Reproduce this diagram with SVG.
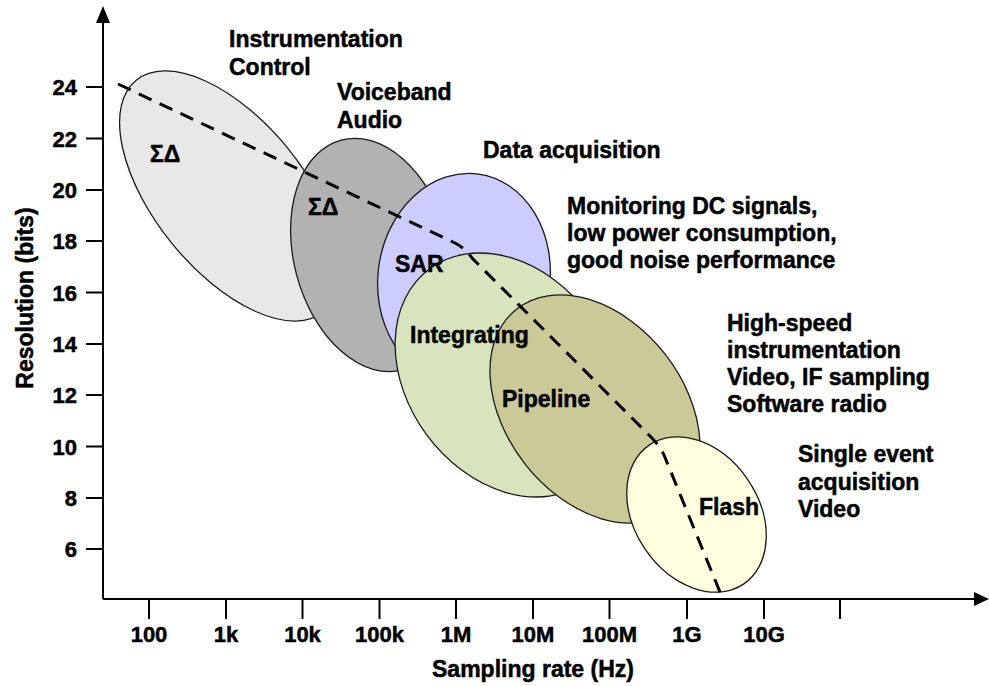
<svg xmlns="http://www.w3.org/2000/svg" width="989" height="686" viewBox="0 0 989 686">
<style>
text{font-family:"Liberation Sans",Arial,sans-serif;font-weight:bold;fill:#000;stroke:#000;stroke-width:0.5;font-size:23px}
.ax{stroke:#000;stroke-width:2;fill:none}
.el{stroke:#1a1a1a;stroke-width:1.3}
.yt{text-anchor:end;font-size:22px}
.xt{text-anchor:middle;font-size:22px}
.dash{fill:none;stroke:#000;stroke-width:3;stroke-dasharray:14 9}
</style>
<rect width="989" height="686" fill="#fff"/>
<g id="axes">
<path class="ax" d="M103,599 V20 M103,599 H976"/>
<polygon points="103,6 96,23 110,23" fill="#000"/>
<polygon points="989,599 974,592 974,606" fill="#000"/>
<path class="ax" d="M86,87H103 M86,138.5H103 M86,190H103 M86,241H103 M86,292.5H103 M86,344H103 M86,395H103 M86,446.5H103 M86,498H103 M86,549H103"/>
<path class="ax" d="M149,599V619 M226,599V619 M302.5,599V619 M379.5,599V619 M456,599V619 M533,599V619 M609.5,599V619 M687,599V619 M764,599V619 M840,599V619"/>
<text class="yt" x="77" y="95">24</text>
<text class="yt" x="77" y="146.5">22</text>
<text class="yt" x="77" y="198">20</text>
<text class="yt" x="77" y="249">18</text>
<text class="yt" x="77" y="300.5">16</text>
<text class="yt" x="77" y="352">14</text>
<text class="yt" x="77" y="403">12</text>
<text class="yt" x="77" y="454.5">10</text>
<text class="yt" x="77" y="506">8</text>
<text class="yt" x="77" y="557">6</text>
<text class="xt" x="149" y="642">100</text>
<text class="xt" x="226" y="642">1k</text>
<text class="xt" x="302.5" y="642">10k</text>
<text class="xt" x="379.5" y="642">100k</text>
<text class="xt" x="456" y="642">1M</text>
<text class="xt" x="533" y="642">10M</text>
<text class="xt" x="609.5" y="642">100M</text>
<text class="xt" x="687" y="642">1G</text>
<text class="xt" x="764" y="642">10G</text>
<text x="533" y="677" text-anchor="middle" font-size="24">Sampling rate (Hz)</text>
<text transform="translate(33,298) rotate(-90)" text-anchor="middle" font-size="24">Resolution (bits)</text>
</g>
<g id="sigma-delta-1">
<ellipse class="el" cx="230" cy="196" rx="149" ry="75" transform="rotate(51 230 196)" fill="#e8e8e8"/>
</g>
<g id="sigma-delta-2">
<ellipse class="el" cx="372" cy="255" rx="119" ry="78" transform="rotate(75 372 255)" fill="#b2b2b2"/>
</g>
<g id="sar">
<ellipse class="el" cx="464" cy="278" rx="86" ry="105" transform="rotate(8 464 278)" fill="#ccccff"/>
</g>
<g id="integrating">
<ellipse class="el" cx="508" cy="375" rx="132" ry="101" transform="rotate(53.6 508 375)" fill="#d7e4bd"/>
</g>
<g id="pipeline">
<ellipse class="el" cx="595" cy="409" rx="127" ry="89" transform="rotate(52 595 409)" fill="#ccc999"/>
</g>
<g id="flash">
<ellipse class="el" cx="696.5" cy="514.5" rx="84" ry="62" transform="rotate(55.7 696.5 514.5)" fill="#ffffe0"/>
</g>
<g id="connectors">
<path class="dash" d="M118,84 L455,243 Q465,248 472,258 L650,436 Q660,446 664,455 L722,597"/>
</g>
<g id="labels">
<text x="150" y="162">ΣΔ</text>
<text x="308" y="215">ΣΔ</text>
<text x="395" y="272">SAR</text>
<text x="410" y="343">Integrating</text>
<text x="502" y="407">Pipeline</text>
<text x="699" y="515">Flash</text>
</g>
<g id="annotations">
<text x="229" y="47">Instrumentation</text>
<text x="229" y="75">Control</text>
<text x="337" y="100">Voiceband</text>
<text x="337" y="128">Audio</text>
<text x="483" y="158">Data acquisition</text>
<text x="567" y="214">Monitoring DC signals,</text>
<text x="567" y="241">low power consumption,</text>
<text x="567" y="268">good noise performance</text>
<text x="727" y="331">High-speed</text>
<text x="727" y="358">instrumentation</text>
<text x="727" y="385">Video, IF sampling</text>
<text x="727" y="412">Software radio</text>
<text x="798" y="462">Single event</text>
<text x="798" y="490">acquisition</text>
<text x="798" y="517">Video</text>
</g>
</svg>
